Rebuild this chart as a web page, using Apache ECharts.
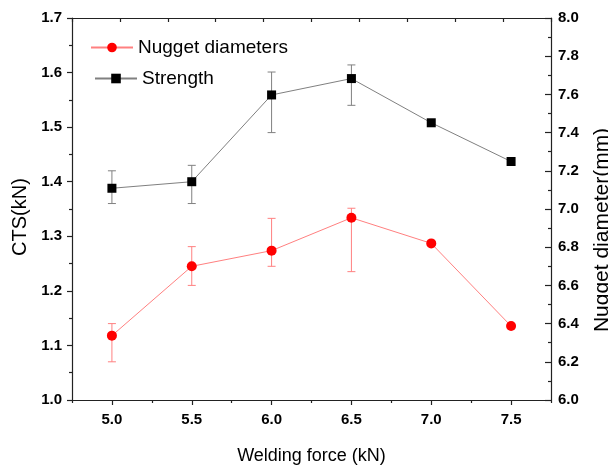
<!DOCTYPE html>
<html>
<head>
<meta charset="utf-8">
<script src="https://cdn.jsdelivr.net/npm/echarts@6/dist/echarts.min.js"></script>
<style>html,body{margin:0;padding:0;background:#fff;}#chart{width:608px;height:469px;}</style>
</head>
<body>
<div id="chart"></div>
<script>
// ---- data ----
const forceValues = [5.0, 5.5, 6.0, 6.5, 7.0, 7.5];
const strength = [1.388, 1.400, 1.559, 1.589, 1.508, 1.437];
const strengthErrLow = [1.360, 1.360, 1.490, 1.540, null, null];
const strengthErrHigh = [1.420, 1.430, 1.601, 1.614, null, null];
const nugget = [6.337, 6.700, 6.782, 6.954, 6.820, 6.387];
const nuggetErrLow = [6.200, 6.600, 6.700, 6.672, null, null];
const nuggetErrHigh = [6.400, 6.803, 6.951, 7.004, null, null];
const xMajorTicks = [5.0, 5.5, 6.0, 6.5, 7.0, 7.5];
const xMinorTicks = [4.75, 5.25, 5.75, 6.25, 6.75, 7.25, 7.75];

const FONT = '"Liberation Sans", Arial, sans-serif';

function pairs(xs, ys) { return xs.map((x, i) => [x, ys[i]]); }
function errData(xs, lo, hi) {
  const out = [];
  xs.forEach((x, i) => { if (lo[i] != null && hi[i] != null) out.push([x, lo[i], hi[i]]); });
  return out;
}
function errRender(color) {
  return function (params, api) {
    const x = api.value(0), lo = api.value(1), hi = api.value(2);
    const pTop = api.coord([x, hi]);
    const pBot = api.coord([x, lo]);
    const cw = 4;
    const st = { stroke: color, lineWidth: 1 };
    return {
      type: 'group',
      children: [
        { type: 'line', shape: { x1: pTop[0], y1: pTop[1], x2: pBot[0], y2: pBot[1] }, style: st },
        { type: 'line', shape: { x1: pTop[0] - cw, y1: pTop[1], x2: pTop[0] + cw, y2: pTop[1] }, style: st },
        { type: 'line', shape: { x1: pBot[0] - cw, y1: pBot[1], x2: pBot[0] + cw, y2: pBot[1] }, style: st }
      ]
    };
  };
}

const chart = echarts.init(document.getElementById('chart'), null, { renderer: 'canvas' });
const axisLineStyle = { color: '#222', width: 1.2 };
const tickLabel = { color: '#000', fontFamily: FONT, fontWeight: 'bold', fontSize: 15 };

chart.setOption({
  animation: false,
  backgroundColor: '#fff',
  grid: { left: 72, right: 57, top: 18, bottom: 69, containLabel: false, outerBoundsMode: 'none' },
  legend: [
    {
      data: ['Nugget diameters'], left: 85, top: 33, itemWidth: 42, itemHeight: 12,
      itemGap: 6, textStyle: { color: '#000', fontFamily: FONT, fontSize: 19 }
    },
    {
      data: ['Strength'], left: 89, top: 64, itemWidth: 42, itemHeight: 12,
      itemGap: 6, textStyle: { color: '#000', fontFamily: FONT, fontSize: 19 }
    }
  ],
  xAxis: [
    {
      type: 'value', position: 'bottom', min: 4.75, max: 7.75, interval: 0.25,
      name: 'Welding force (kN)', nameLocation: 'middle', nameGap: 47,
      nameTextStyle: { color: '#000', fontFamily: FONT, fontSize: 18 },
      axisLine: { show: true, lineStyle: axisLineStyle },
      axisTick: { show: true, inside: false, length: 5, customValues: xMajorTicks, lineStyle: axisLineStyle },
      axisLabel: { show: true, margin: 12, customValues: xMajorTicks, formatter: v => v.toFixed(1), ...tickLabel },
      splitLine: { show: false }
    },
    {
      type: 'value', position: 'bottom', min: 4.75, max: 7.75, interval: 0.25,
      axisLine: { show: false },
      axisTick: { show: true, inside: false, length: 3, customValues: xMinorTicks, lineStyle: axisLineStyle },
      axisLabel: { show: false },
      splitLine: { show: false }
    },
    {
      type: 'value', position: 'top', min: 0, max: 10, interval: 1,
      axisLine: { show: true, lineStyle: axisLineStyle },
      axisTick: { show: true, inside: true, length: 4, lineStyle: axisLineStyle },
      axisLabel: { show: false },
      splitLine: { show: false }
    }
  ],
  yAxis: [
    {
      type: 'value', position: 'left', min: 1.0, max: 1.7, interval: 0.1,
      name: 'CTS(kN)', nameLocation: 'middle', nameGap: 41, nameRotate: 90,
      nameTextStyle: { color: '#000', fontFamily: FONT, fontSize: 20, padding: [0, 16, 0, 0] },
      axisLine: { show: true, lineStyle: axisLineStyle },
      axisTick: { show: true, inside: false, length: 5, lineStyle: axisLineStyle },
      minorTick: { show: true, splitNumber: 2, length: 3, lineStyle: axisLineStyle },
      axisLabel: { margin: 10, formatter: v => v.toFixed(1), ...tickLabel },
      splitLine: { show: false }
    },
    {
      type: 'value', position: 'right', min: 6.0, max: 8.0, interval: 0.2,
      name: 'Nugget diameter(mm)', nameLocation: 'middle', nameGap: 41, nameRotate: 90,
      nameTextStyle: { color: '#000', fontFamily: FONT, fontSize: 21, padding: [0, 42, 0, 0] },
      axisLine: { show: true, lineStyle: axisLineStyle },
      axisTick: { show: true, inside: true, length: 6, lineStyle: axisLineStyle },
      minorTick: { show: true, splitNumber: 2, length: 3, lineStyle: axisLineStyle },
      axisLabel: { margin: 7, formatter: v => v.toFixed(1), ...tickLabel },
      splitLine: { show: false }
    }
  ],
  series: [
    {
      name: 'Nugget diameters', type: 'line', xAxisIndex: 0, yAxisIndex: 1,
      data: pairs(forceValues, nugget), z: 4,
      symbol: 'circle', symbolSize: 10,
      itemStyle: { color: '#ff0000' },
      lineStyle: { color: '#ff8080', width: 1 }
    },
    {
      name: 'Strength', type: 'line', xAxisIndex: 0, yAxisIndex: 0,
      data: pairs(forceValues, strength), z: 4,
      symbol: 'rect', symbolSize: 9,
      itemStyle: { color: '#000000' },
      lineStyle: { color: '#808080', width: 1 }
    },
    {
      type: 'custom', xAxisIndex: 0, yAxisIndex: 1, z: 3, silent: true,
      data: errData(forceValues, nuggetErrLow, nuggetErrHigh),
      encode: { x: 0, y: [1, 2] },
      renderItem: errRender('#ff8080')
    },
    {
      type: 'custom', xAxisIndex: 0, yAxisIndex: 0, z: 3, silent: true,
      data: errData(forceValues, strengthErrLow, strengthErrHigh),
      encode: { x: 0, y: [1, 2] },
      renderItem: errRender('#808080')
    }
  ]
});
</script>
</body>
</html>
